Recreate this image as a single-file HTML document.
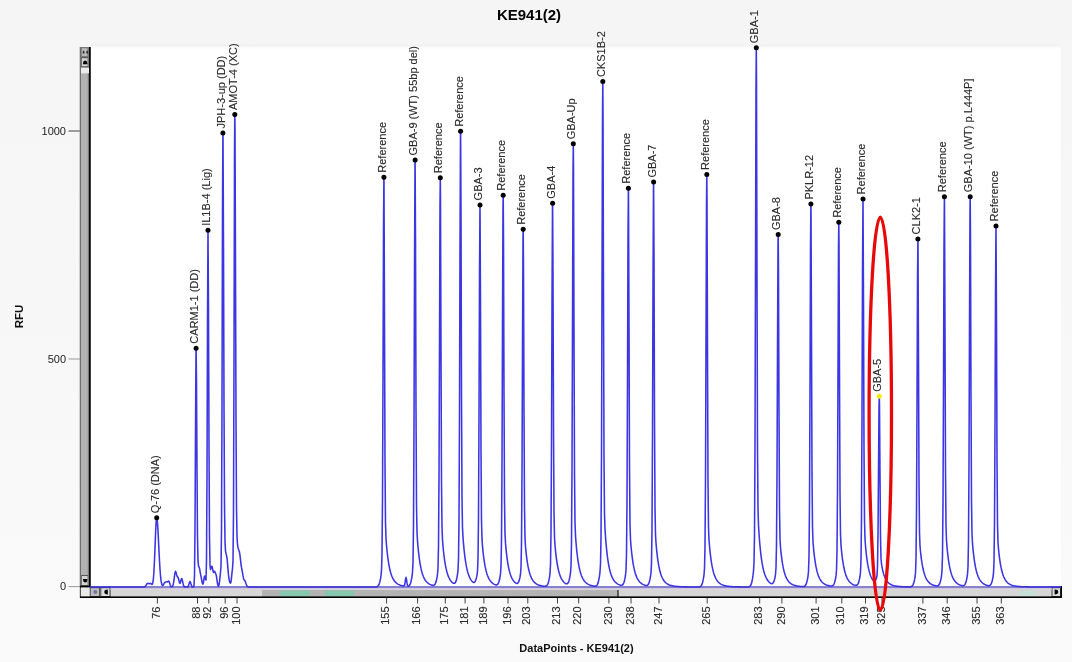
<!DOCTYPE html>
<html><head><meta charset="utf-8"><style>
html,body{margin:0;padding:0;}
body{width:1072px;height:662px;overflow:hidden;background:#f6f6f6;font-family:"Liberation Sans",sans-serif;}
svg{position:absolute;left:0;top:0;filter:blur(0.35px);}
</style></head><body>
<svg width="1072" height="662" viewBox="0 0 1072 662" font-family="Liberation Sans, sans-serif">
<defs>
<filter id="soft" x="-5%" y="-5%" width="110%" height="110%"><feGaussianBlur stdDeviation="0.35"/></filter>
<linearGradient id="topfade" x1="0" y1="0" x2="0" y2="1">
<stop offset="0" stop-color="#f6f6f6"/>
<stop offset="0.25" stop-color="#f1f1f1"/>
<stop offset="0.5" stop-color="#f4f4f4"/>
<stop offset="1" stop-color="#ffffff"/>
</linearGradient>
<linearGradient id="bgg" x1="0" y1="0" x2="0" y2="1">
<stop offset="0" stop-color="#f5f5f5"/>
<stop offset="0.4" stop-color="#f7f7f7"/>
<stop offset="1" stop-color="#fafafa"/>
</linearGradient>
<linearGradient id="strip" x1="0" y1="0" x2="0" y2="1">
<stop offset="0" stop-color="#c8c0e0"/>
<stop offset="1" stop-color="#e0d8d8"/>
</linearGradient>
</defs>
<rect x="0" y="0" width="1072" height="662" fill="url(#bgg)"/>
<rect x="91" y="43.5" width="970" height="5" fill="url(#topfade)"/>
<rect x="91" y="48.5" width="970" height="539" fill="#ffffff"/>
<!-- title -->
<text x="529" y="20.2" font-size="15" font-weight="bold" text-anchor="middle" fill="#000">KE941(2)</text>
<text x="576.5" y="651.5" font-size="11" font-weight="bold" text-anchor="middle" fill="#111">DataPoints - KE941(2)</text>
<text transform="translate(23,316.5) rotate(-90)" font-size="11.5" font-weight="bold" text-anchor="middle" fill="#111">RFU</text>
<!-- y axis -->
<g stroke="#444" stroke-width="1">
<line x1="68.5" y1="131" x2="80" y2="131"/>
<line x1="68.5" y1="359" x2="80" y2="359" stroke="#999"/>
<line x1="68.5" y1="586.6" x2="80" y2="586.6" stroke="#999"/>
</g>
<g font-size="11" fill="#222" text-anchor="end">
<text x="66" y="135">1000</text>
<text x="66" y="362.5">500</text>
<text x="66" y="590">0</text>
</g>
<!-- vertical scrollbar -->
<rect x="79.8" y="47" width="11" height="540" fill="#b2b2b2"/>
<rect x="79.8" y="47" width="1.2" height="540" fill="#6e6e6e"/>
<rect x="87.8" y="47" width="1.3" height="540" fill="#7a7a7a"/>
<rect x="89" y="47" width="1.7" height="540" fill="#080808"/>
<rect x="81" y="47" width="7" height="10" fill="#7a7a7a"/>
<rect x="81.8" y="48.3" width="5.6" height="7.6" fill="#bcbcbc"/>
<ellipse cx="83.6" cy="52.2" rx="0.9" ry="1.6" fill="#333"/>
<ellipse cx="87.2" cy="52.2" rx="0.9" ry="1.6" fill="#333"/>
<rect x="81" y="57" width="7" height="10.5" fill="#5a5a5a"/>
<rect x="81.8" y="58.2" width="5.8" height="8" fill="#d4d4d4"/>
<path d="M83,64.2 Q83,60.6 85.2,60.6 Q87.4,60.6 87.4,64.2 Z" fill="#000"/>
<rect x="81" y="67.8" width="8" height="5.5" fill="#ececec"/>
<rect x="81" y="575" width="7" height="11" fill="#5a5a5a"/>
<rect x="81.8" y="576" width="5.8" height="9" fill="#d4d4d4"/>
<path d="M83,579 Q83,582.6 85.2,582.6 Q87.4,582.6 87.4,579 Z" fill="#000"/>
<!-- horizontal scrollbar -->
<rect x="80" y="586" width="982" height="12" fill="#d6d6d6"/>
<rect x="80" y="587" width="10" height="10" fill="#eaeaea"/>
<rect x="79.8" y="586" width="1.2" height="12" fill="#555"/>
<rect x="262" y="590" width="356" height="7" fill="#b4b4b4"/>
<rect x="617.3" y="589" width="1.4" height="8" fill="#333"/>
<rect x="280" y="590.5" width="30" height="6" fill="#86c6ae"/>
<rect x="325" y="590.5" width="29" height="6" fill="#86c6ae"/>
<rect x="1020" y="590.5" width="16" height="6" fill="#c6e0d6"/>
<rect x="89.7" y="587" width="10.4" height="10" fill="#555"/>
<rect x="90.8" y="588.2" width="8.2" height="7.8" fill="#bdbdbd"/>
<circle cx="95.3" cy="592" r="2" fill="#7a70a8"/>
<rect x="100.3" y="587" width="10.3" height="10" fill="#444"/>
<rect x="101.3" y="588.2" width="8.2" height="7.8" fill="#dcdcdc"/>
<path d="M104.3,592 Q104.3,589.6 107.8,589.6 L107.8,594.4 Q104.3,594.4 104.3,592 Z" fill="#000"/>
<rect x="1051.5" y="587" width="10" height="10" fill="#444"/>
<rect x="1052.5" y="588.2" width="7.5" height="7.8" fill="#dcdcdc"/>
<path d="M1058.2,592 Q1058.2,589.6 1054.6,589.6 L1054.6,594.4 Q1058.2,594.4 1058.2,592 Z" fill="#000"/>
<rect x="1060.5" y="586" width="1.5" height="12" fill="#000"/>
<rect x="80" y="596.4" width="982" height="1.6" fill="#000"/>
<rect x="80" y="585.7" width="10.5" height="1.7" fill="#000"/>
<!-- colorful strip -->
<rect x="110.6" y="587.8" width="941" height="2.2" fill="url(#strip)"/>
<!-- x ticks -->
<g stroke="#444" stroke-width="1">
<line x1="157.4" y1="598" x2="157.4" y2="603.5"/><line x1="197.5" y1="598" x2="197.5" y2="603.5"/><line x1="208.8" y1="598" x2="208.8" y2="603.5"/><line x1="225.2" y1="598" x2="225.2" y2="603.5"/><line x1="237.0" y1="598" x2="237.0" y2="603.5"/><line x1="386.6" y1="598" x2="386.6" y2="603.5"/><line x1="417.6" y1="598" x2="417.6" y2="603.5"/><line x1="445.3" y1="598" x2="445.3" y2="603.5"/><line x1="465.1" y1="598" x2="465.1" y2="603.5"/><line x1="483.9" y1="598" x2="483.9" y2="603.5"/><line x1="508.0" y1="598" x2="508.0" y2="603.5"/><line x1="527.8" y1="598" x2="527.8" y2="603.5"/><line x1="557.5" y1="598" x2="557.5" y2="603.5"/><line x1="578.7" y1="598" x2="578.7" y2="603.5"/><line x1="608.9" y1="598" x2="608.9" y2="603.5"/><line x1="631.0" y1="598" x2="631.0" y2="603.5"/><line x1="659.0" y1="598" x2="659.0" y2="603.5"/><line x1="707.2" y1="598" x2="707.2" y2="603.5"/><line x1="759.7" y1="598" x2="759.7" y2="603.5"/><line x1="781.9" y1="598" x2="781.9" y2="603.5"/><line x1="816.1" y1="598" x2="816.1" y2="603.5"/><line x1="841.8" y1="598" x2="841.8" y2="603.5"/><line x1="865.5" y1="598" x2="865.5" y2="603.5"/><line x1="882.0" y1="598" x2="882.0" y2="603.5"/><line x1="922.9" y1="598" x2="922.9" y2="603.5"/><line x1="947.2" y1="598" x2="947.2" y2="603.5"/><line x1="977.0" y1="598" x2="977.0" y2="603.5"/><line x1="1001.3" y1="598" x2="1001.3" y2="603.5"/>
</g>
<g font-size="11" fill="#2a2a2a" stroke="#2a2a2a" stroke-width="0.12" text-anchor="end">
<text transform="translate(160.0,606.5) rotate(-90)">76</text><text transform="translate(200.1,606.5) rotate(-90)">88</text><text transform="translate(211.4,606.5) rotate(-90)">92</text><text transform="translate(227.8,606.5) rotate(-90)">96</text><text transform="translate(239.6,606.5) rotate(-90)">100</text><text transform="translate(389.2,606.5) rotate(-90)">155</text><text transform="translate(420.2,606.5) rotate(-90)">166</text><text transform="translate(447.9,606.5) rotate(-90)">175</text><text transform="translate(467.7,606.5) rotate(-90)">181</text><text transform="translate(486.5,606.5) rotate(-90)">189</text><text transform="translate(510.6,606.5) rotate(-90)">196</text><text transform="translate(530.4,606.5) rotate(-90)">203</text><text transform="translate(560.1,606.5) rotate(-90)">213</text><text transform="translate(581.3,606.5) rotate(-90)">220</text><text transform="translate(611.5,606.5) rotate(-90)">230</text><text transform="translate(633.6,606.5) rotate(-90)">238</text><text transform="translate(661.6,606.5) rotate(-90)">247</text><text transform="translate(709.8,606.5) rotate(-90)">265</text><text transform="translate(762.3,606.5) rotate(-90)">283</text><text transform="translate(784.5,606.5) rotate(-90)">290</text><text transform="translate(818.7,606.5) rotate(-90)">301</text><text transform="translate(844.4,606.5) rotate(-90)">310</text><text transform="translate(868.1,606.5) rotate(-90)">319</text><text transform="translate(884.6,606.5) rotate(-90)">325</text><text transform="translate(925.5,606.5) rotate(-90)">337</text><text transform="translate(949.8,606.5) rotate(-90)">346</text><text transform="translate(979.6,606.5) rotate(-90)">355</text><text transform="translate(1003.9,606.5) rotate(-90)">363</text>
</g>
<!-- trace -->
<polyline points="90.00,587.00 144.00,586.95 144.50,586.85 145.00,586.60 145.50,586.13 146.00,585.39 146.50,584.51 147.00,583.74 147.50,583.35 148.00,583.39 148.50,583.65 149.00,583.79 149.50,583.65 150.00,583.38 150.50,583.31 151.00,583.62 151.50,584.16 152.00,584.47 152.50,583.92 153.00,581.83 153.50,577.48 154.00,570.29 154.50,560.10 155.00,547.64 155.50,534.76 156.00,524.12 156.50,518.34 156.70,517.80 157.00,518.57 157.50,523.12 158.00,530.98 158.50,540.85 159.00,551.28 159.50,561.03 160.00,569.26 160.50,575.62 161.00,580.13 161.50,583.08 162.00,584.78 162.50,585.49 163.00,585.37 163.50,584.61 164.00,583.62 164.50,582.86 165.00,582.43 165.50,582.12 166.00,581.78 166.50,581.64 167.00,581.79 167.50,581.87 168.00,581.54 168.50,581.13 169.00,581.41 169.50,582.65 170.00,584.31 170.50,585.70 171.00,586.50 171.50,586.80 172.00,586.75 172.50,586.31 173.00,585.23 173.50,583.13 174.00,579.90 174.50,576.04 175.00,572.74 175.50,571.29 176.00,572.08 176.50,574.16 177.00,576.01 177.50,576.87 178.00,577.38 178.50,578.62 179.00,580.75 179.50,582.75 180.00,583.40 180.50,582.29 181.00,580.19 181.50,578.63 182.00,578.87 182.50,580.83 183.00,583.35 183.50,585.32 184.00,586.40 184.50,586.83 185.00,586.96 187.00,586.98 187.50,586.88 188.00,586.53 188.50,585.63 189.00,584.03 189.50,582.29 190.00,581.50 190.50,582.29 191.00,584.03 191.50,585.63 192.00,586.53 192.50,586.88 193.00,586.98 193.50,586.92 194.00,585.71 194.50,575.46 195.00,529.96 195.50,431.04 196.00,351.00 196.10,348.19 196.50,380.81 197.00,470.24 197.50,536.39 198.00,560.93 198.50,565.93 199.00,566.78 199.50,568.37 200.00,571.22 200.50,574.10 201.00,576.46 201.50,579.03 202.00,581.90 202.50,583.93 203.00,584.05 203.50,581.98 204.00,578.62 204.50,576.14 205.00,576.52 205.50,579.34 206.00,579.97 206.50,560.62 207.00,477.35 207.50,321.56 208.00,230.28 208.50,306.82 209.00,447.84 209.50,536.58 210.00,565.24 210.50,569.60 211.00,568.24 211.50,566.39 212.00,566.23 212.50,568.30 213.00,571.05 213.50,572.35 214.00,571.88 214.50,571.31 215.00,571.95 215.50,573.27 216.00,574.55 216.50,576.60 217.00,580.03 217.50,583.56 218.00,585.69 218.50,586.13 219.00,584.91 219.50,581.70 220.00,576.87 220.50,572.31 221.00,566.03 221.50,531.28 222.00,406.75 222.50,208.80 222.90,132.01 223.00,135.88 223.50,245.52 224.00,404.77 224.50,504.76 225.00,541.53 225.50,551.12 226.00,553.67 226.50,555.17 227.00,558.02 227.50,563.13 228.00,569.40 228.50,574.94 229.00,578.85 229.50,581.35 230.00,582.83 230.50,583.17 231.00,581.65 231.50,577.72 232.00,572.55 232.50,568.70 233.00,561.07 233.50,512.55 234.00,360.27 234.50,160.34 234.80,113.60 235.00,128.73 235.50,263.66 236.00,420.36 236.50,507.25 237.00,536.45 237.50,544.33 238.00,547.43 238.50,549.24 239.00,550.48 239.50,552.18 240.00,555.32 240.50,559.71 241.00,564.06 241.50,567.39 242.00,569.99 242.50,572.70 243.00,575.69 243.50,578.23 244.00,579.69 244.50,580.30 245.00,580.87 245.50,581.99 246.00,583.54 246.50,584.98 247.00,585.96 247.50,586.49 248.00,586.73 248.50,586.84 249.00,586.90 249.50,586.94 250.00,586.96 375.50,587.00 376.00,586.93 376.50,586.86 377.00,586.73 377.50,586.49 378.00,586.08 378.50,585.44 379.00,584.46 379.50,583.06 380.00,581.16 380.50,578.74 381.00,575.68 381.50,570.43 382.00,553.96 382.50,499.11 383.00,376.72 383.50,228.64 383.90,177.20 384.00,184.09 384.50,318.07 385.00,463.63 385.50,522.86 386.00,538.44 386.50,545.19 387.00,550.46 387.50,554.99 388.00,558.91 388.50,562.31 389.00,565.26 389.50,567.83 390.00,570.06 390.50,572.00 391.00,573.70 391.50,575.19 392.00,576.49 392.50,577.64 393.00,578.64 393.50,579.53 394.00,580.31 394.50,581.00 395.00,581.61 395.50,582.16 396.00,582.64 396.50,583.07 397.00,583.45 397.50,583.79 398.00,584.10 398.50,584.37 399.00,584.61 399.50,584.83 400.00,585.03 400.50,585.21 401.00,585.37 401.50,585.52 402.00,585.65 402.50,585.77 403.00,585.87 403.50,585.96 404.00,585.91 404.50,585.24 405.00,582.97 405.50,579.31 406.00,577.34 406.50,579.42 407.00,583.20 407.50,585.48 408.00,586.17 408.50,586.14 409.00,585.85 409.50,585.32 410.00,584.48 410.50,583.23 411.00,581.49 411.50,579.22 412.00,576.36 412.50,572.28 413.00,561.95 413.50,525.47 414.00,427.07 414.50,270.62 415.00,163.44 415.10,159.86 415.50,236.74 416.00,407.87 416.50,504.27 417.00,531.99 417.50,540.84 418.00,546.75 418.50,551.76 419.00,556.10 419.50,559.85 420.00,563.11 420.50,565.94 421.00,568.40 421.50,570.55 422.00,572.42 422.50,574.06 423.00,575.50 423.50,576.75 424.00,577.89 424.50,578.86 425.00,579.72 425.50,580.47 426.00,581.14 426.50,581.74 427.00,582.26 427.50,582.73 428.00,583.15 428.50,583.52 429.00,583.85 429.50,584.15 430.00,584.42 430.50,584.65 431.00,584.87 431.50,585.06 432.00,585.24 432.50,585.32 433.00,585.38 433.50,585.36 434.00,585.21 434.50,584.87 435.00,584.26 435.50,583.29 436.00,581.88 436.50,579.95 437.00,577.49 437.50,574.28 438.00,568.02 438.50,546.78 439.00,479.91 439.50,345.60 440.00,207.07 440.30,177.30 440.50,199.55 441.00,352.45 441.50,481.65 442.00,527.53 442.50,539.83 443.00,546.12 443.50,551.23 444.00,555.65 444.50,559.47 445.00,562.79 445.50,565.66 446.00,568.17 446.50,570.35 447.00,572.25 447.50,573.92 448.00,575.37 448.50,576.65 449.00,577.77 449.50,578.76 450.00,579.63 450.50,580.39 451.00,581.07 451.50,581.67 452.00,582.21 452.50,582.68 453.00,582.99 453.50,583.25 454.00,583.37 454.50,583.31 455.00,582.98 455.50,582.32 456.00,581.18 456.50,579.49 457.00,577.21 457.50,574.30 458.00,570.06 458.50,559.15 459.00,520.32 459.50,415.39 460.00,248.51 460.50,134.20 460.60,130.40 461.00,212.49 461.50,395.18 462.00,498.12 462.50,527.76 463.00,537.25 463.50,543.59 464.00,548.98 464.50,553.64 465.00,557.68 465.50,561.19 466.00,564.23 466.50,566.89 467.00,569.20 467.50,571.22 468.00,572.98 468.50,574.53 469.00,575.89 469.50,577.09 470.00,578.14 470.50,579.07 471.00,579.89 471.50,580.61 472.00,581.26 472.50,581.71 473.00,582.11 473.50,582.37 474.00,582.43 474.50,582.24 475.00,581.72 475.50,580.79 476.00,579.38 476.50,577.46 477.00,574.97 477.50,570.98 478.00,559.27 478.50,518.26 479.00,417.02 479.50,275.67 480.00,203.68 480.50,303.00 481.00,450.27 481.50,520.22 482.00,539.15 482.50,546.17 483.00,551.32 483.50,555.72 484.00,559.54 484.50,562.85 485.00,565.72 485.50,568.22 486.00,570.40 486.50,572.30 487.00,573.96 487.50,575.41 488.00,576.68 488.50,577.80 489.00,578.79 489.50,579.65 490.00,580.42 490.50,581.09 491.00,581.69 491.50,582.23 492.00,582.70 492.50,583.12 493.00,583.50 493.50,583.83 494.00,584.13 494.50,584.40 495.00,584.64 495.50,584.77 496.00,584.88 496.50,584.89 497.00,584.77 497.50,584.44 498.00,583.84 498.50,582.87 499.00,581.45 499.50,579.54 500.00,577.10 500.50,573.78 501.00,566.39 501.50,540.21 502.00,463.46 502.50,325.74 503.00,207.63 503.20,194.70 503.50,237.83 504.00,393.73 504.50,499.96 505.00,533.52 505.50,543.14 506.00,548.83 506.50,553.59 507.00,557.70 507.50,561.26 508.00,564.35 508.50,567.04 509.00,569.37 509.50,571.41 510.00,573.18 510.50,574.74 511.00,576.10 511.50,577.29 512.00,578.34 512.50,579.26 513.00,580.07 513.50,580.79 514.00,581.43 514.50,581.99 515.00,582.49 515.50,582.86 516.00,583.17 516.50,583.38 517.00,583.44 517.50,583.29 518.00,582.87 518.50,582.11 519.00,580.92 519.50,579.27 520.00,577.16 520.50,574.21 521.00,567.50 521.50,543.66 522.00,473.65 522.50,347.96 523.00,240.18 523.20,228.39 523.50,267.79 524.00,410.16 524.50,507.18 525.00,537.85 525.50,546.66 526.00,551.88 526.50,556.25 527.00,560.02 527.50,563.29 528.00,566.13 528.50,568.60 529.00,570.75 529.50,572.62 530.00,574.25 530.50,575.68 531.00,576.93 531.50,578.03 532.00,579.00 532.50,579.85 533.00,580.60 533.50,581.26 534.00,581.85 534.50,582.37 535.00,582.83 535.50,583.24 536.00,583.60 536.50,583.93 537.00,584.22 537.50,584.49 538.00,584.72 538.50,584.93 539.00,585.12 539.50,585.29 540.00,585.45 540.50,585.58 541.00,585.71 541.50,585.82 542.00,585.93 542.50,586.02 543.00,586.10 543.50,586.21 544.00,586.28 544.50,586.34 545.00,586.30 545.50,586.25 546.00,586.12 546.50,585.85 547.00,585.39 547.50,584.64 548.00,583.53 548.50,581.97 549.00,579.93 549.50,577.37 550.00,573.70 550.50,564.43 551.00,531.64 551.50,443.20 552.00,302.59 552.50,206.25 552.60,203.04 553.00,272.14 553.50,425.96 554.00,512.61 554.50,537.53 555.00,545.49 555.50,550.80 556.00,555.31 556.50,559.20 557.00,562.58 557.50,565.51 558.00,568.06 558.50,570.27 559.00,572.20 559.50,573.89 560.00,575.36 560.50,576.65 561.00,577.78 561.50,578.78 562.00,579.65 562.50,580.42 563.00,581.11 563.50,581.73 564.00,582.27 564.50,582.74 565.00,583.16 565.50,583.45 566.00,583.70 566.50,583.83 567.00,583.81 567.50,583.57 568.00,583.02 568.50,582.07 569.00,580.63 569.50,578.62 570.00,576.03 570.50,572.62 571.00,565.89 571.50,542.94 572.00,470.58 572.50,325.19 573.00,175.22 573.30,143.01 573.50,167.12 574.00,332.71 574.50,472.64 575.00,522.34 575.50,535.68 576.00,542.51 576.50,548.07 577.00,552.87 577.50,557.02 578.00,560.63 578.50,563.76 579.00,566.48 579.50,568.85 580.00,570.92 580.50,572.73 581.00,574.32 581.50,575.71 582.00,576.93 582.50,578.00 583.00,578.95 583.50,579.79 584.00,580.53 584.50,581.18 585.00,581.77 585.50,582.28 586.00,582.74 586.50,583.16 587.00,583.52 587.50,583.85 588.00,584.15 588.50,584.41 589.00,584.65 589.50,584.86 590.00,585.06 590.50,585.23 591.00,585.39 591.50,585.53 592.00,585.66 592.50,585.78 593.00,585.91 593.50,586.00 594.00,586.09 594.50,586.17 595.00,586.14 595.50,586.10 596.00,585.98 596.50,585.70 597.00,585.20 597.50,584.38 598.00,583.11 598.50,581.30 599.00,578.87 599.50,575.79 600.00,571.78 600.50,564.00 601.00,537.74 601.50,455.14 602.00,289.26 602.50,118.17 602.80,81.40 603.00,108.87 603.50,297.64 604.00,457.16 604.50,513.78 605.00,528.95 605.50,536.70 606.00,543.00 606.50,548.44 607.00,553.15 607.50,557.23 608.00,560.78 608.50,563.86 609.00,566.54 609.50,568.88 610.00,570.93 610.50,572.72 611.00,574.29 611.50,575.67 612.00,576.88 612.50,577.95 613.00,578.89 613.50,579.76 614.00,580.50 614.50,581.15 615.00,581.73 615.50,582.25 616.00,582.71 616.50,583.12 617.00,583.49 617.50,583.82 618.00,584.11 618.50,584.38 619.00,584.62 619.50,584.84 620.00,585.03 620.50,585.14 621.00,585.23 621.50,585.24 622.00,585.14 622.50,584.86 623.00,584.34 623.50,583.49 624.00,582.21 624.50,580.45 625.00,578.17 625.50,575.25 626.00,570.21 626.50,554.23 627.00,500.91 627.50,381.85 628.00,237.78 628.40,187.76 628.50,194.47 629.00,324.89 629.50,466.57 630.00,524.25 630.50,539.44 631.00,546.03 631.50,551.18 632.00,555.61 632.50,559.45 633.00,562.77 633.50,565.66 634.00,568.17 634.50,570.36 635.00,572.26 635.50,573.93 636.00,575.39 636.50,576.67 637.00,577.79 637.50,578.77 638.00,579.64 638.50,580.41 639.00,581.09 639.50,581.69 640.00,582.22 640.50,582.70 641.00,583.12 641.50,583.50 642.00,583.83 642.50,584.13 643.00,584.44 643.50,584.68 644.00,584.89 644.50,585.09 645.00,585.26 645.50,585.42 646.00,585.45 646.50,585.48 647.00,585.40 647.50,585.18 648.00,584.75 648.50,584.01 649.00,582.88 649.50,581.28 650.00,579.16 650.50,576.49 651.00,572.66 651.50,562.90 652.00,528.33 652.50,435.05 653.00,286.73 653.50,185.11 653.60,181.73 654.00,254.64 654.50,416.93 655.00,508.36 655.50,534.67 656.00,543.07 656.50,548.69 657.00,553.45 657.50,557.57 658.00,561.14 658.50,564.24 659.00,566.94 659.50,569.28 660.00,571.32 660.50,573.10 661.00,574.66 661.50,576.03 662.00,577.23 662.50,578.28 663.00,579.21 663.50,580.02 664.00,580.75 664.50,581.39 665.00,581.95 665.50,582.46 666.00,582.91 666.50,583.30 667.00,583.66 667.50,583.98 668.00,584.26 668.50,584.55 669.00,584.78 669.50,584.98 670.00,585.16 670.50,585.33 671.00,585.48 671.50,585.61 672.00,585.74 672.50,585.85 673.00,585.95 673.50,586.04 674.00,586.12 674.50,586.20 675.00,586.27 675.50,586.33 676.00,586.38 676.50,586.44 677.00,586.48 677.50,586.53 678.00,586.57 678.50,586.60 679.00,586.63 679.50,586.66 680.00,586.69 680.50,586.72 681.00,586.74 681.50,586.76 682.00,586.78 682.50,586.80 683.00,586.82 683.50,586.83 684.00,586.84 684.50,586.86 685.00,586.87 685.50,586.88 686.00,586.89 686.50,586.90 687.00,586.91 687.50,586.91 688.00,586.92 688.50,586.93 689.00,586.93 689.50,586.94 690.00,586.94 690.50,586.95 691.00,586.95 698.50,587.00 699.00,586.92 699.50,586.84 700.00,586.69 700.50,586.42 701.00,585.97 701.50,585.26 702.00,584.20 702.50,582.69 703.00,580.68 703.50,578.13 704.00,574.84 704.50,568.47 705.00,547.00 705.50,479.55 706.00,344.12 706.50,204.43 706.80,174.40 707.00,196.82 707.50,350.92 708.00,481.13 708.50,527.35 709.00,539.72 709.50,546.04 710.00,551.18 710.50,555.61 711.00,559.44 711.50,562.77 712.00,565.66 712.50,568.17 713.00,570.36 713.50,572.26 714.00,573.93 714.50,575.39 715.00,576.67 715.50,577.79 716.00,578.77 716.50,579.64 717.00,580.41 717.50,581.09 718.00,581.69 718.50,582.23 719.00,582.70 719.50,583.12 720.00,583.50 720.50,583.83 721.00,584.13 721.50,584.40 722.00,584.64 722.50,584.86 723.00,585.06 723.50,585.23 724.00,585.39 724.50,585.53 725.00,585.66 725.50,585.78 726.00,585.89 726.50,585.98 727.00,586.07 727.50,586.15 728.00,586.22 728.50,586.29 729.00,586.35 729.50,586.40 730.00,586.45 730.50,586.50 731.00,586.54 731.50,586.58 732.00,586.61 732.50,586.65 733.00,586.68 733.50,586.70 734.00,586.73 734.50,586.75 735.00,586.77 735.50,586.79 736.00,586.81 736.50,586.82 737.00,586.84 737.50,586.85 738.00,586.86 738.50,586.87 739.00,586.88 739.50,586.89 740.00,586.90 740.50,586.91 741.00,586.92 741.50,586.92 742.00,586.93 742.50,586.94 743.00,586.94 743.50,586.95 744.00,586.95 744.50,586.95 748.00,587.00 748.50,586.90 749.00,586.79 749.50,586.59 750.00,586.24 750.50,585.65 751.00,584.73 751.50,583.33 752.00,581.36 752.50,578.73 753.00,575.41 753.50,571.10 754.00,562.77 754.50,534.72 755.00,446.56 755.50,269.53 756.00,86.95 756.30,47.70 756.50,77.00 757.00,278.42 757.50,448.62 758.00,509.03 758.50,525.21 759.00,533.46 759.50,540.18 760.00,545.97 760.50,550.98 761.00,555.33 761.50,559.10 762.00,562.39 762.50,565.24 763.00,567.74 763.50,569.92 764.00,571.82 764.50,573.49 765.00,574.96 765.50,576.25 766.00,577.39 766.50,578.39 767.00,579.28 767.50,580.06 768.00,580.76 768.50,581.38 769.00,581.93 769.50,582.42 770.00,582.86 770.50,583.18 771.00,583.45 771.50,583.62 772.00,583.65 772.50,583.48 773.00,583.05 773.50,582.28 774.00,581.09 774.50,579.46 775.00,577.34 775.50,574.42 776.00,567.81 776.50,544.32 777.00,475.34 777.50,351.51 778.00,245.32 778.20,233.70 778.50,272.52 779.00,412.78 779.50,508.37 780.00,538.58 780.50,547.25 781.00,552.40 781.50,556.70 782.00,560.42 782.50,563.64 783.00,566.44 783.50,568.87 784.00,570.98 784.50,572.83 785.00,574.44 785.50,575.84 786.00,577.08 786.50,578.16 787.00,579.11 787.50,579.95 788.00,580.69 788.50,581.34 789.00,581.92 789.50,582.43 790.00,582.89 790.50,583.29 791.00,583.65 791.50,583.98 792.00,584.26 792.50,584.52 793.00,584.75 793.50,584.96 794.00,585.15 794.50,585.32 795.00,585.47 795.50,585.60 796.00,585.73 796.50,585.88 797.00,585.98 797.50,586.07 798.00,586.15 798.50,586.22 799.00,586.29 799.50,586.35 800.00,586.40 800.50,586.45 801.00,586.50 801.50,586.54 802.00,586.58 802.50,586.62 803.00,586.58 803.50,586.55 804.00,586.45 804.50,586.25 805.00,585.89 805.50,585.31 806.00,584.41 806.50,583.12 807.00,581.37 807.50,579.12 808.00,576.27 808.50,571.38 809.00,556.00 809.50,504.76 810.00,390.42 810.50,252.06 810.90,204.01 811.00,210.44 811.50,335.64 812.00,471.65 812.50,527.00 813.00,541.56 813.50,547.88 814.00,552.80 814.50,557.04 815.00,560.71 815.50,563.89 816.00,566.65 816.50,569.05 817.00,571.14 817.50,572.96 818.00,574.55 818.50,575.97 819.00,577.18 819.50,578.25 820.00,579.19 820.50,580.02 821.00,580.75 821.50,581.40 822.00,581.97 822.50,582.47 823.00,582.92 823.50,583.33 824.00,583.68 824.50,584.00 825.00,584.29 825.50,584.54 826.00,584.77 826.50,584.98 827.00,585.16 827.50,585.33 828.00,585.48 828.50,585.61 829.00,585.74 829.50,585.85 830.00,585.95 830.50,586.04 831.00,586.05 831.50,586.06 832.00,585.99 832.50,585.82 833.00,585.48 833.50,584.90 834.00,584.01 834.50,582.72 835.00,580.98 835.50,578.76 836.00,575.88 836.50,570.28 837.00,551.34 837.50,491.74 838.00,372.06 838.50,248.61 838.80,222.08 839.00,241.90 839.50,378.13 840.00,493.24 840.50,534.10 841.00,545.06 841.50,550.65 842.00,555.21 842.50,559.13 843.00,562.53 843.50,565.48 844.00,568.04 844.50,570.27 845.00,572.21 845.50,573.90 846.00,575.38 846.50,576.67 847.00,577.81 847.50,578.81 848.00,579.68 848.50,580.45 849.00,581.14 849.50,581.74 850.00,582.27 850.50,582.75 851.00,583.20 851.50,583.57 852.00,583.90 852.50,584.20 853.00,584.47 853.50,584.70 854.00,584.92 854.50,585.11 855.00,585.28 855.50,585.32 856.00,585.35 856.50,585.28 857.00,585.04 857.50,584.59 858.00,583.82 858.50,582.67 859.00,581.05 859.50,578.93 860.00,576.25 860.50,572.06 861.00,560.05 861.50,518.28 862.00,415.35 862.50,271.70 863.00,198.50 863.50,299.27 864.00,448.78 864.50,519.77 865.00,538.95 865.50,546.03 866.00,551.22 866.50,555.66 867.00,559.50 867.50,562.82 868.00,565.71 868.50,568.22 869.00,570.41 869.50,572.32 870.00,573.98 870.50,575.44 871.00,576.71 871.50,577.80 872.00,578.74 872.50,579.54 873.00,580.18 873.50,580.65 874.00,580.92 874.50,580.96 875.00,580.74 875.50,580.23 876.00,579.42 876.50,578.24 877.00,575.59 877.50,565.94 878.00,535.00 878.50,472.62 879.00,408.28 879.30,394.51 879.50,404.93 880.00,476.31 880.50,536.64 881.00,558.13 881.50,563.96 882.00,566.98 882.50,569.45 883.00,571.59 883.50,573.44 884.00,575.05 884.50,576.44 885.00,577.66 885.50,578.73 886.00,579.66 886.50,580.47 887.00,581.19 887.50,581.81 888.00,582.37 888.50,582.85 889.00,583.28 889.50,583.67 890.00,584.00 890.50,584.30 891.00,584.57 891.50,584.81 892.00,585.02 892.50,585.21 893.00,585.38 893.50,585.53 894.00,585.66 894.50,585.79 895.00,585.90 895.50,586.00 896.00,586.09 896.50,586.17 897.00,586.24 897.50,586.31 898.00,586.37 898.50,586.42 899.00,586.47 899.50,586.52 900.00,586.56 900.50,586.60 901.00,586.63 901.50,586.66 902.00,586.69 902.50,586.72 903.00,586.77 903.50,586.79 904.00,586.81 904.50,586.82 905.00,586.84 905.50,586.85 906.00,586.86 906.50,586.87 907.00,586.88 907.50,586.89 908.00,586.90 908.50,586.91 909.00,586.92 909.50,586.92 910.00,586.87 910.50,586.82 911.00,586.71 911.50,586.51 912.00,586.17 912.50,585.63 913.00,584.80 913.50,583.61 914.00,582.00 914.50,579.95 915.00,577.35 915.50,572.90 916.00,558.91 916.50,512.32 917.00,408.36 917.50,282.57 917.90,238.88 918.00,244.73 918.50,358.54 919.00,482.19 919.50,532.52 920.00,545.75 920.50,551.49 921.00,555.96 921.50,559.81 922.00,563.14 922.50,566.03 923.00,568.53 923.50,570.71 924.00,572.61 924.50,574.26 925.00,575.71 925.50,576.97 926.00,578.08 926.50,579.05 927.00,579.90 927.50,580.65 928.00,581.32 928.50,581.91 929.00,582.43 929.50,582.89 930.00,583.30 930.50,583.66 931.00,583.98 931.50,584.27 932.00,584.53 932.50,584.77 933.00,584.97 933.50,585.16 934.00,585.33 934.50,585.48 935.00,585.62 935.50,585.74 936.00,585.85 936.50,585.89 937.00,585.91 937.50,585.87 938.00,585.72 938.50,585.40 939.00,584.85 939.50,583.97 940.00,582.68 940.50,580.93 941.00,578.67 941.50,575.79 942.00,570.83 942.50,555.17 943.00,502.96 943.50,386.42 944.00,245.41 944.40,196.44 944.50,203.00 945.00,330.63 945.50,469.28 946.00,525.71 946.50,540.57 947.00,547.02 947.50,552.05 948.00,556.37 948.50,560.12 949.00,563.37 949.50,566.19 950.00,568.64 950.50,570.77 951.00,572.63 951.50,574.26 952.00,575.68 952.50,576.93 953.00,578.02 953.50,578.99 954.00,579.83 954.50,580.58 955.00,581.24 955.50,581.83 956.00,582.35 956.50,582.81 957.00,583.22 957.50,583.59 958.00,583.94 958.50,584.23 959.00,584.49 959.50,584.73 960.00,584.94 960.50,585.13 961.00,585.30 961.50,585.45 962.00,585.59 962.50,585.63 963.00,585.65 963.50,585.59 964.00,585.40 964.50,585.02 965.00,584.37 965.50,583.35 966.00,581.90 966.50,579.95 967.00,577.49 967.50,574.16 968.00,566.73 968.50,540.63 969.00,464.15 969.50,326.93 970.00,209.26 970.20,196.37 970.50,239.33 971.00,394.62 971.50,500.44 972.00,533.85 972.50,543.42 973.00,549.08 973.50,553.81 974.00,557.90 974.50,561.44 975.00,564.51 975.50,567.18 976.00,569.50 976.50,571.52 977.00,573.29 977.50,574.83 978.00,576.18 978.50,577.37 979.00,578.41 979.50,579.32 980.00,580.13 980.50,580.85 981.00,581.48 981.50,582.04 982.00,582.53 982.50,582.97 983.00,583.37 983.50,583.72 984.00,584.03 984.50,584.34 985.00,584.59 985.50,584.81 986.00,585.02 986.50,585.20 987.00,585.36 987.50,585.51 988.00,585.64 988.50,585.65 989.00,585.66 989.50,585.57 990.00,585.34 990.50,584.90 991.00,584.17 991.50,583.08 992.00,581.56 992.50,579.58 993.00,577.08 993.50,573.18 994.00,561.99 994.50,523.12 995.00,427.35 995.50,293.68 996.00,225.57 996.50,319.33 997.00,458.44 997.50,524.49 998.00,542.33 998.50,548.91 999.00,553.73 999.50,557.86 1000.00,561.43 1000.50,564.53 1001.00,567.21 1001.50,569.55 1002.00,571.58 1002.50,573.35 1003.00,574.90 1003.50,576.25 1004.00,577.44 1004.50,578.48 1005.00,579.40 1005.50,580.20 1006.00,580.92 1006.50,581.54 1007.00,582.10 1007.50,582.59 1008.00,583.03 1008.50,583.42 1009.00,583.77 1009.50,584.08 1010.00,584.36 1010.50,584.64 1011.00,584.86 1011.50,585.05 1012.00,585.23 1012.50,585.39 1013.00,585.54 1013.50,585.67 1014.00,585.79 1014.50,585.89 1015.00,585.99 1015.50,586.08 1016.00,586.16 1016.50,586.23 1017.00,586.30 1017.50,586.36 1018.00,586.41 1018.50,586.46 1019.00,586.51 1019.50,586.55 1020.00,586.59 1020.50,586.62 1021.00,586.65 1021.50,586.68 1022.00,586.71 1022.50,586.73 1023.00,586.75 1023.50,586.77 1024.00,586.79 1024.50,586.81 1025.00,586.82 1025.50,586.84 1026.00,586.85 1026.50,586.86 1027.00,586.87 1027.50,586.88 1028.00,586.89 1028.50,586.90 1029.00,586.91 1029.50,586.92 1030.00,586.92 1030.50,586.93 1031.00,586.94 1031.50,586.94 1032.00,586.95 1032.50,586.95 1061.00,587.00" fill="none" stroke="#3a34e4" stroke-width="1.55" stroke-linejoin="round" filter="url(#soft)"/>
<line x1="90" y1="587" x2="1061" y2="587" stroke="#3a2ec8" stroke-width="1.2"/>
<!-- dots -->
<circle cx="156.7" cy="517.8" r="2.5" fill="#000"/><circle cx="196.1" cy="348.2" r="2.5" fill="#000"/><circle cx="208.0" cy="230.3" r="2.5" fill="#000"/><circle cx="222.9" cy="133.0" r="2.5" fill="#000"/><circle cx="234.8" cy="114.5" r="2.5" fill="#000"/><circle cx="383.9" cy="177.2" r="2.5" fill="#000"/><circle cx="415.1" cy="160.0" r="2.5" fill="#000"/><circle cx="440.3" cy="177.7" r="2.5" fill="#000"/><circle cx="460.6" cy="131.3" r="2.5" fill="#000"/><circle cx="480.0" cy="204.9" r="2.5" fill="#000"/><circle cx="503.2" cy="195.2" r="2.5" fill="#000"/><circle cx="523.2" cy="229.3" r="2.5" fill="#000"/><circle cx="552.6" cy="203.2" r="2.5" fill="#000"/><circle cx="573.3" cy="143.8" r="2.5" fill="#000"/><circle cx="602.8" cy="81.6" r="2.5" fill="#000"/><circle cx="628.4" cy="188.2" r="2.5" fill="#000"/><circle cx="653.6" cy="182.1" r="2.5" fill="#000"/><circle cx="706.8" cy="174.4" r="2.5" fill="#000"/><circle cx="756.3" cy="47.7" r="2.5" fill="#000"/><circle cx="778.2" cy="234.6" r="2.5" fill="#000"/><circle cx="810.9" cy="204.1" r="2.5" fill="#000"/><circle cx="838.8" cy="222.3" r="2.5" fill="#000"/><circle cx="863.0" cy="198.9" r="2.5" fill="#000"/><circle cx="879.3" cy="396.3" r="2.5" fill="#f2ee10"/><circle cx="917.9" cy="238.9" r="2.5" fill="#000"/><circle cx="944.4" cy="196.7" r="2.5" fill="#000"/><circle cx="970.2" cy="196.7" r="2.5" fill="#000"/><circle cx="996.0" cy="225.9" r="2.5" fill="#000"/>
<!-- labels -->
<g font-size="11" fill="#2a2a2a" stroke="#2a2a2a" stroke-width="0.12">
<text transform="translate(158.7,513.3) rotate(-90)">Q-76 (DNA)</text><text transform="translate(198.1,343.7) rotate(-90)">CARM1-1 (DD)</text><text transform="translate(210.0,225.8) rotate(-90)">IL1B-4 (Lig)</text><text transform="translate(224.9,128.5) rotate(-90)">JPH-3-up (DD)</text><text transform="translate(236.8,110.0) rotate(-90)">AMOT-4 (XC)</text><text transform="translate(385.9,172.7) rotate(-90)">Reference</text><text transform="translate(417.1,155.5) rotate(-90)">GBA-9 (WT) 55bp del)</text><text transform="translate(442.3,173.2) rotate(-90)">Reference</text><text transform="translate(462.6,126.8) rotate(-90)">Reference</text><text transform="translate(482.0,200.4) rotate(-90)">GBA-3</text><text transform="translate(505.2,190.7) rotate(-90)">Reference</text><text transform="translate(525.2,224.8) rotate(-90)">Reference</text><text transform="translate(554.6,198.7) rotate(-90)">GBA-4</text><text transform="translate(575.3,139.3) rotate(-90)">GBA-Up</text><text transform="translate(604.8,77.1) rotate(-90)">CKS1B-2</text><text transform="translate(630.4,183.7) rotate(-90)">Reference</text><text transform="translate(655.6,177.6) rotate(-90)">GBA-7</text><text transform="translate(708.8,169.9) rotate(-90)">Reference</text><text transform="translate(758.3,43.2) rotate(-90)">GBA-1</text><text transform="translate(780.2,230.1) rotate(-90)">GBA-8</text><text transform="translate(812.9,199.6) rotate(-90)">PKLR-12</text><text transform="translate(840.8,217.8) rotate(-90)">Reference</text><text transform="translate(865.0,194.4) rotate(-90)">Reference</text><text transform="translate(881.3,391.8) rotate(-90)">GBA-5</text><text transform="translate(919.9,234.4) rotate(-90)">CLK2-1</text><text transform="translate(946.4,192.2) rotate(-90)">Reference</text><text transform="translate(972.2,192.2) rotate(-90)">GBA-10 (WT) p.L444P]</text><text transform="translate(998.0,221.4) rotate(-90)">Reference</text>
</g>
<!-- red ellipse -->
<ellipse cx="880.3" cy="413.7" rx="11.2" ry="196.6" fill="none" stroke="#e80808" stroke-width="3.3"/>
</svg>
</body></html>
